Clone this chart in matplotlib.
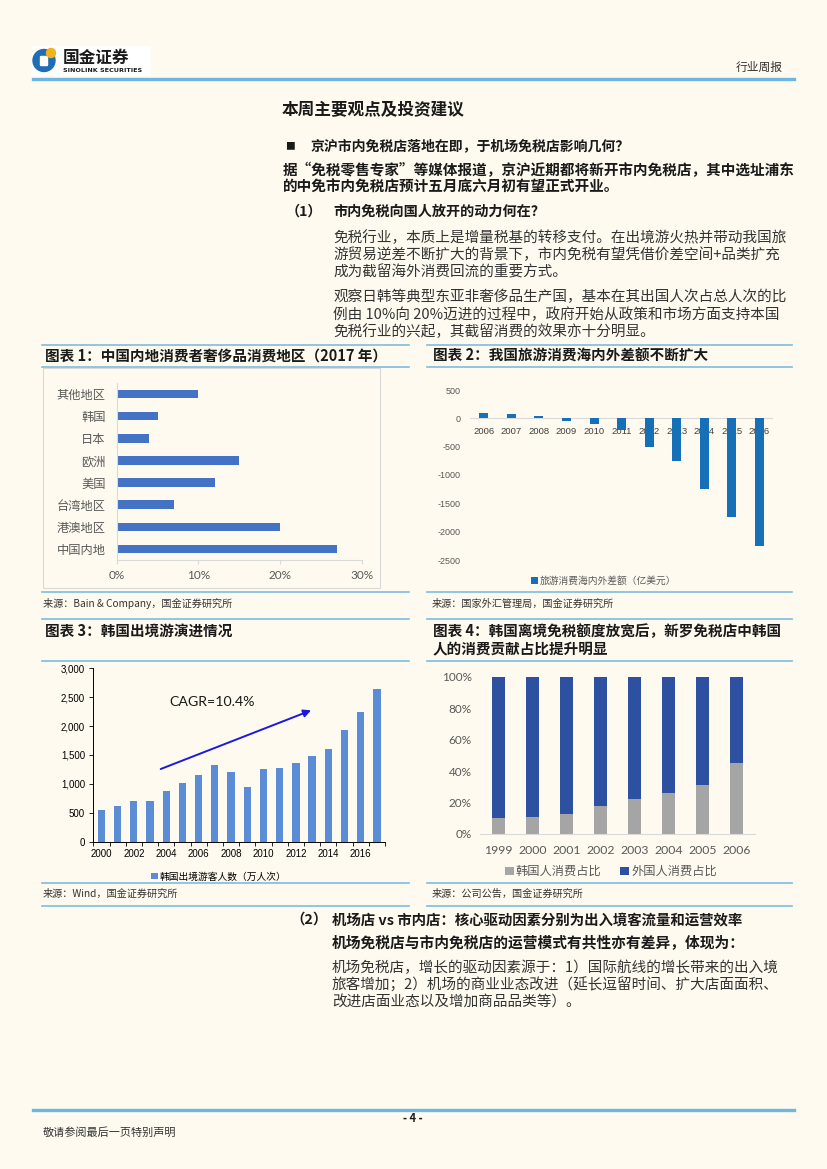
import matplotlib
matplotlib.use("Agg")
import matplotlib.pyplot as plt
import matplotlib.patches as mpatches
from matplotlib.lines import Line2D
from matplotlib.ticker import FuncFormatter

plt.rcParams["font.family"] = ["Noto Sans CJK SC", "DejaVu Sans"]
plt.rcParams["axes.unicode_minus"] = False

# ---- data ----
# chart 1: luxury spending location of mainland consumers (2017)
regions = ["中国内地", "港澳地区", "台湾地区", "美国", "欧洲", "日本", "韩国", "其他地区"]
region_share = [27, 20, 7, 12, 15, 4, 5, 10]

# chart 2: travel balance (100m USD)
gap_years = ["2006", "2007", "2008", "2009", "2010", "2011", "2012", "2013", "2014", "2015", "2016"]
gap_values = [100, 80, 50, -40, -95, -210, -500, -750, -1250, -1740, -2250]

# chart 3: Korean outbound tourists (10k)
kr_years = list(range(2000, 2018))
kr_tourists = [550, 610, 710, 710, 880, 1010, 1160, 1330, 1200, 950,
               1250, 1270, 1370, 1485, 1610, 1930, 2238, 2650]

# chart 4: Shilla duty free spending share
shilla_years = ["1999", "2000", "2001", "2002", "2003", "2004", "2005", "2006"]
korean_share = [10, 11, 13, 18, 22, 26, 31, 45]
foreign_share = [100 - v for v in korean_share]

W, H = 827, 1169
BG = "#FEFAEF"
LINE = "#7CBDE0"

fig = plt.figure(figsize=(W / 100, H / 100), dpi=100, facecolor=BG)

# page layer in pixel coordinates
bg = fig.add_axes([0, 0, 1, 1])
bg.set_xlim(0, W)
bg.set_ylim(H, 0)
bg.axis("off")
bg.set_facecolor("none")


def hline(y, x0, x1, color=LINE, lw=1.2):
    bg.add_line(Line2D([x0, x1], [y, y], color=color, lw=lw))


def txt(x, y, s, size=10, bold=False, color="#1a1a1a", ha="left", **kw):
    bg.text(x, y, s, fontsize=size, fontweight="bold" if bold else "normal",
            color=color, ha=ha, va="center", **kw)


def px_axes(x0, y0, x1, y1):
    ax = fig.add_axes([x0 / W, 1 - y1 / H, (x1 - x0) / W, (y1 - y0) / H])
    ax.set_facecolor("none")
    return ax


# header
bg.add_patch(mpatches.Rectangle((32, 46), 118, 29, color="white", zorder=1))
bg.add_patch(mpatches.Circle((44, 60.5), 11, color="#1E6DB5", zorder=2))
bg.add_patch(mpatches.FancyBboxPatch((41, 57), 6, 8, boxstyle="round,pad=0.5",
                                     color="white", zorder=3))
bg.add_patch(mpatches.Circle((51, 53), 4.5, color="#F2B21B", zorder=4))
txt(63, 57.5, "国金证券", size=12, bold=True, zorder=5)
bg.text(63, 70, "SINOLINK SECURITIES", fontsize=4.6, fontweight="bold",
        family="DejaVu Sans", color="#1a1a1a", va="center", zorder=5)
txt(783, 67, "行业周报", size=8.5, ha="right", color="#333333")
hline(78.5, 33, 794, color="#6CB6E0", lw=2.4)

# section 1 text
txt(282, 110, "本周主要观点及投资建议", size=12, bold=True)
txt(285, 146, "■", size=7)
txt(310, 146, "京沪市内免税店落地在即，于机场免税店影响几何？", size=10, bold=True)
txt(283, 170, "据“免税零售专家”等媒体报道，京沪近期都将新开市内免税店，其中选址浦东", size=10.5, bold=True)
txt(283, 187, "的中免市内免税店预计五月底六月初有望正式开业。", size=10.5, bold=True)
txt(286, 212, "（1）", size=10.2, bold=True)
txt(333, 212, "市内免税向国人放开的动力何在？", size=10.2, bold=True)
body1 = ["免税行业，本质上是增量税基的转移支付。在出境游火热并带动我国旅",
         "游贸易逆差不断扩大的背景下，市内免税有望凭借价差空间+品类扩充",
         "成为截留海外消费回流的重要方式。"]
body2 = ["观察日韩等典型东亚非奢侈品生产国，基本在其出国人次占总人次的比",
         "例由 10%向 20%迈进的过程中，政府开始从政策和市场方面支持本国",
         "免税行业的兴起，其截留消费的效果亦十分明显。"]
for i, s in enumerate(body1):
    txt(333, 238 + i * 17.3, s, size=10.5, color="#333333")
for i, s in enumerate(body2):
    txt(333, 297 + i * 17.3, s, size=10.5, color="#333333")

# chart frames / titles / sources
for y in (345, 367, 591.5, 619, 661, 883, 906):
    hline(y, 42, 409)
    hline(y, 427, 792)
txt(45, 356, "图表 1：中国内地消费者奢侈品消费地区（2017 年）", size=10.5, bold=True)
txt(433, 356, "图表 2：我国旅游消费海内外差额不断扩大", size=10.5, bold=True)
txt(45, 631, "图表 3：韩国出境游演进情况", size=10.5, bold=True)
txt(433, 631, "图表 4：韩国离境免税额度放宽后，新罗免税店中韩国", size=10.5, bold=True)
txt(433, 649, "人的消费贡献占比提升明显", size=10.5, bold=True)
txt(43, 603.5, "来源：Bain & Company，国金证券研究所", size=7.3, color="#333333")
txt(432, 603.5, "来源：国家外汇管理局，国金证券研究所", size=7.3, color="#333333")
txt(43, 894, "来源：Wind，国金证券研究所", size=7.3, color="#333333")
txt(432, 894, "来源：公司公告，国金证券研究所", size=7.3, color="#333333")
bg.add_patch(mpatches.Rectangle((43, 368), 337, 220, fill=False, ec="#D9D9D9", lw=0.8))

# section 2 text
txt(290, 920, "（2）", size=10.4, bold=True)
txt(332, 920, "机场店 vs 市内店：核心驱动因素分别为出入境客流量和运营效率", size=10.4, bold=True)
txt(332, 943, "机场免税店与市内免税店的运营模式有共性亦有差异，体现为：", size=10.6, bold=True)
body3 = ["机场免税店，增长的驱动因素源于：1）国际航线的增长带来的出入境",
         "旅客增加；2）机场的商业业态改进（延长逗留时间、扩大店面面积、",
         "改进店面业态以及增加商品品类等）。"]
for i, s in enumerate(body3):
    txt(332, 968 + i * 17.5, s, size=10.5, color="#333333")

# footer
hline(1109.5, 33, 794, color="#6CB6E0", lw=2.4)
txt(413, 1119, "- 4 -", size=8, bold=True, ha="center")
txt(43, 1133, "敬请参阅最后一页特别声明", size=8, color="#333333")

# ---- chart 1 ----
ax1 = px_axes(116.7, 383, 361.7, 560)
ax1.barh(range(len(regions)), region_share, height=0.38, color="#4472C4")
ax1.set_xlim(0, 30)
ax1.set_ylim(-0.5, 7.5)
ax1.set_xticks([0, 10, 20, 30])
ax1.set_xticklabels(["0%", "10%", "20%", "30%"], family="Lato")
ax1.set_yticks(range(len(regions)))
ax1.set_yticklabels(regions)
ax1.tick_params(axis="x", length=3, color="#D9D9D9", labelsize=8.5, labelcolor="#595959", pad=4)
ax1.tick_params(axis="y", length=0, labelsize=8.8, labelcolor="#595959", pad=8)
for s in ("top", "right"):
    ax1.spines[s].set_visible(False)
for s in ("left", "bottom"):
    ax1.spines[s].set_color("#D9D9D9")
    ax1.spines[s].set_linewidth(0.8)

# ---- chart 2 ----
ax2 = px_axes(470, 390, 773.3, 560)
x2 = range(len(gap_years))
for i, lab in enumerate(gap_years):
    ax2.text(i, -230, lab, ha="center", va="center", fontsize=6.8,
             color="#404040", family="Liberation Sans", zorder=1)
ax2.bar(x2, gap_values, width=0.33, color="#1570B8", zorder=2,
        label="旅游消费海内外差额（亿美元）")
ax2.axhline(0, color="#D9D9D9", lw=0.8, zorder=1.5)
ax2.set_xlim(-0.5, 10.5)
ax2.set_ylim(-2500, 500)
ax2.set_yticks([500, 0, -500, -1000, -1500, -2000, -2500])
ax2.set_xticks([])
ax2.tick_params(axis="y", length=0, labelsize=6.5, labelcolor="#595959", pad=7)
for lab in ax2.get_yticklabels():
    lab.set_family("Liberation Sans")
for s in ax2.spines.values():
    s.set_visible(False)
ax2.legend(loc="center", bbox_to_anchor=(0.44, -0.122), frameon=False, fontsize=7,
           handlelength=0.7, handleheight=0.7, handletextpad=0.2, labelcolor="#595959")

# ---- chart 3 ----
ax3 = px_axes(93.3, 668.3, 385, 841.7)
ax3.bar(kr_years, kr_tourists, width=0.45, color="#5B8DD6", label="韩国出境游客人数（万人次）")
ax3.set_xlim(1999.5, 2017.5)
ax3.set_ylim(0, 3000)
ax3.set_yticks(range(0, 3001, 500))
ax3.yaxis.set_major_formatter(FuncFormatter(lambda v, p: f"{int(v):,}"))
ax3.set_xticks(kr_years[::2])
ax3.set_xticks([y - 0.5 for y in kr_years] + [kr_years[-1] + 0.5], minor=True)
ax3.tick_params(axis="x", which="major", length=0, pad=5, labelsize=7)
ax3.tick_params(axis="x", which="minor", length=3, width=0.6)
ax3.tick_params(axis="y", length=3, width=0.6, labelsize=7, pad=3)
for lab in ax3.get_xticklabels() + ax3.get_yticklabels():
    lab.set_family("Liberation Sans")
for s in ("top", "right"):
    ax3.spines[s].set_visible(False)
for s in ("left", "bottom"):
    ax3.spines[s].set_linewidth(0.7)
ax3.annotate("", xy=(2013.1, 2290), xytext=(2003.5, 1240),
             arrowprops=dict(arrowstyle="-|>", color="#1A1ADB", lw=1.4, mutation_scale=11))
ax3.text(2004.2, 2420, "CAGR=10.4%", fontsize=10.2, family="Lato", va="center", color="#1a1a1a")
ax3.legend(loc="center", bbox_to_anchor=(0.43, -0.2), frameon=False, fontsize=7,
           handlelength=0.7, handleheight=0.7, handletextpad=0.2)

# ---- chart 4 ----
ax4 = px_axes(480, 676.7, 755, 834)
x4 = range(len(shilla_years))
ax4.bar(x4, korean_share, width=0.4, color="#A5A5A5", label="韩国人消费占比")
ax4.bar(x4, foreign_share, width=0.4, bottom=korean_share, color="#2D50A0", label="外国人消费占比")
ax4.set_xlim(-0.55, 7.55)
ax4.set_ylim(0, 100)
ax4.set_yticks(range(0, 101, 20))
ax4.set_yticklabels([f"{v}%" for v in range(0, 101, 20)])
ax4.set_xticks(list(x4))
ax4.set_xticklabels(shilla_years)
ax4.tick_params(axis="x", length=0, pad=8, labelsize=8.8, labelcolor="#595959")
ax4.tick_params(axis="y", length=0, pad=6, labelsize=8.5, labelcolor="#595959")
for lab in ax4.get_xticklabels() + ax4.get_yticklabels():
    lab.set_family("Lato")
for s in ("top", "right", "left"):
    ax4.spines[s].set_visible(False)
ax4.spines["bottom"].set_color("#D9D9D9")
ax4.legend(loc="center", bbox_to_anchor=(0.476, -0.24), frameon=False, fontsize=8.8, ncol=2,
           handlelength=0.7, handleheight=0.7, handletextpad=0.2, columnspacing=1.5,
           labelcolor="#595959")

fig.savefig("out.png", dpi=100, facecolor=BG)
